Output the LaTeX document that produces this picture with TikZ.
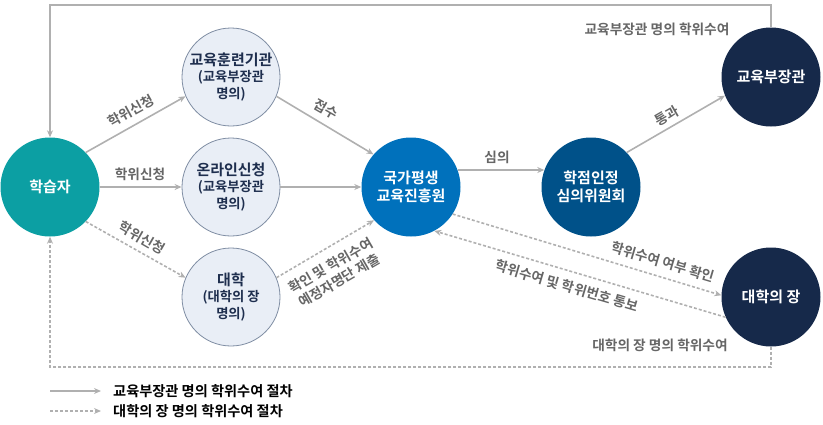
\documentclass[tikz,border=0pt]{standalone}
\usepackage{fontspec}
\setmainfont{Noto Sans CJK KR}[BoldFont={Noto Sans CJK KR Bold}]
\usetikzlibrary{arrows.meta}
\definecolor{cTeal}{HTML}{0C9FA3}
\definecolor{cBlue}{HTML}{0071BC}
\definecolor{cMid}{HTML}{005189}
\definecolor{cNavy}{HTML}{16294A}
\definecolor{cLightF}{HTML}{E9EEF6}
\definecolor{cLightD}{HTML}{7F8DA3}
\definecolor{cLightT}{HTML}{1E2E4E}
\definecolor{cLine}{HTML}{B0B0B0}
\definecolor{cLab}{HTML}{666666}
\tikzset{
  darkcirc/.style={circle, minimum size=99pt, inner sep=0pt, text=white, font=\bfseries\fontsize{15}{18.5}\selectfont, align=center},
  lightcirc/.style={circle, minimum size=98pt, inner sep=0pt, fill=cLightF, draw=cLightD, line width=0.8pt, text=cLightT, align=center, font=\bfseries\fontsize{13.3}{16.3}\selectfont},
  conn/.style={draw=cLine, line width=1.6pt, -{Stealth[length=7pt,width=6pt]}},
  dconn/.style={conn, dash pattern=on 3pt off 2pt},
  lab/.style={text=cLab, font=\bfseries\fontsize{13.7}{17}\selectfont, inner sep=0pt, align=center},
  legtext/.style={text=black, font=\bfseries\fontsize{14.2}{16}\selectfont, inner sep=0pt, anchor=west},
}
\newcommand{\mybigt}{\fontsize{15}{16.3}\selectfont\bfseries}
\newcommand{\mysmlt}{\fontsize{13.3}{16.3}\selectfont\bfseries}
\begin{document}
\begin{tikzpicture}[x=1pt,y=-1pt]
\useasboundingbox (0,0) rectangle (823,424);
% nodes
\node[darkcirc, fill=cTeal] (L) at (50,187) {학습자};
\node[lightcirc] (E) at (231,77) {{\mybigt 교육훈련기관}\\{\mysmlt (교육부장관}\\{\mysmlt 명의)}};
\node[lightcirc] (O) at (231,187) {{\mybigt 온라인신청}\\{\mysmlt (교육부장관}\\{\mysmlt 명의)}};
\node[lightcirc] (D) at (231,297) {{\mybigt 대학}\\{\mysmlt (대학의 장}\\{\mysmlt 명의)}};
\node[darkcirc, fill=cBlue] (N) at (411,187) {국가평생\\교육진흥원};
\node[darkcirc, fill=cMid] (P) at (591,187) {학점인정\\심의위원회};
\node[darkcirc, fill=cNavy] (M) at (771,77) {교육부장관};
\node[darkcirc, fill=cNavy] (U) at (771,297) {대학의 장};
\coordinate (topy) at (0,5);
\coordinate (boty) at (0,367);
% connectors
\draw[conn] (M.north) -- (M.north |- topy) -| (L.north);
\draw[dconn] (U.south) -- (U.south |- boty) -| (L.south);
\draw[conn] (L.44) -- (E.203);
\draw[conn] (L.east) -- (O.west);
\draw[dconn] (L.-44) -- (D.157);
\draw[conn] (E.-23) -- (N.139);
\draw[conn] (O.east) -- (N.west);
\draw[dconn] (D.23) -- (N.222);
\draw[conn] (N.20) -- (P.160);
\draw[conn] (P.44) -- (M.202);
\draw[dconn] (N.-33) -- (U.178);
\draw[dconn] (U.204) -- (N.-62);
% labels
\node[lab, rotate=29] (l1) at (131,111) {학위신청};
\node[lab] (l2) at (140,174) {학위신청};
\node[lab, rotate=-30] (l3) at (142,238) {학위신청};
\node[lab, rotate=-30] (l4) at (326,109) {접수};
\node[lab, rotate=30] (l5) at (335,273) {확인 및 학위수여\\예정자명단 제출};
\node[lab] (l6) at (497,157) {심의};
\node[lab, rotate=30] (l7) at (667,116) {통과};
\node[lab, rotate=-16.5] (l8) at (663,262) {학위수여 여부 확인};
\node[lab, rotate=-16.5] (l9) at (567,286) {학위수여 및 학위번호 통보};
\node[lab] (l10) at (657,29) {교육부장관 명의 학위수여};
\node[lab] (l11) at (660,345) {대학의 장 명의 학위수여};
% legend
\coordinate (g1a) at (50,391);
\coordinate (g1b) at (101,391);
\coordinate (g2a) at (50,411);
\coordinate (g2b) at (101,411);
\draw[conn, line width=1.4pt] (g1a) -- (g1b);
\draw[dconn, line width=1.4pt] (g2a) -- (g2b);
\node[legtext] (t1) at (113,391) {교육부장관 명의 학위수여 절차};
\node[legtext] (t2) at (113,411) {대학의 장 명의 학위수여 절차};
\end{tikzpicture}
\end{document}
